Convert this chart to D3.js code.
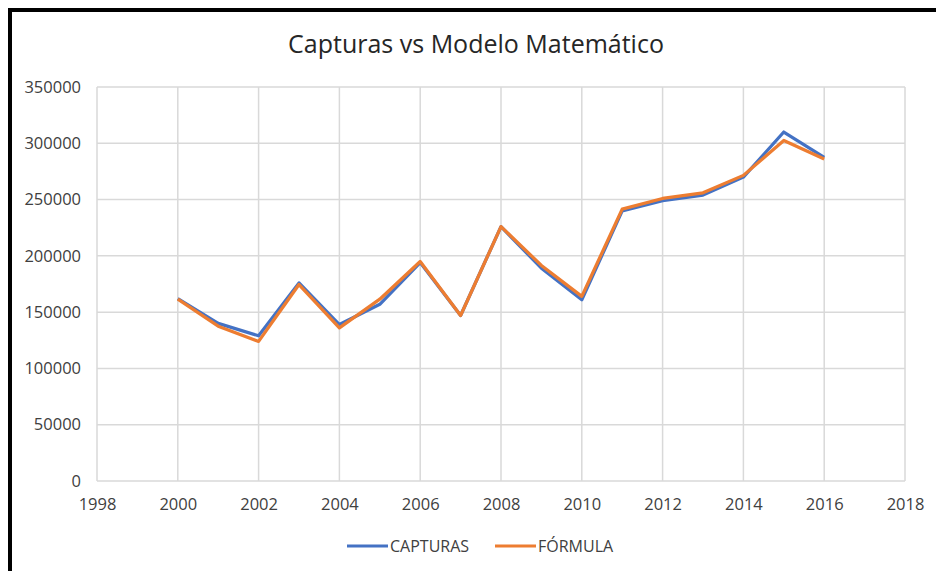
<!DOCTYPE html>
<html><head><meta charset="utf-8">
<script src="https://cdn.jsdelivr.net/npm/d3@7"></script>
<style>
html,body{margin:0;padding:0;background:#fff;}
svg{display:block;}
text{font-family:"Open Sans",sans-serif;}
</style></head>
<body><svg id="c" width="936" height="571"></svg>
<script>
const years = [2000,2001,2002,2003,2004,2005,2006,2007,2008,2009,2010,2011,2012,2013,2014,2015,2016];
const capturas = [162000,140000,129000,176000,139000,157000,194000,147000,226000,189000,161000,240000,249000,254000,270000,310000,287500];
const formula  = [161500,137500,124000,174500,136000,161500,195000,147000,226000,191500,164000,241500,251000,256000,271500,302500,286000];
const xTicks = [1998,2000,2002,2004,2006,2008,2010,2012,2014,2016,2018];
const yTicks = [0,50000,100000,150000,200000,250000,300000,350000];
const seriesNames = ["CAPTURAS","FÓRMULA"];
const colors = ["#4472C4","#ED7D31"];
const FONT = '"Open Sans",sans-serif';

const svg = d3.select("#c");
svg.append("rect").attr("x",10).attr("y",10).attr("width",960).attr("height",600)
  .attr("fill","none").attr("stroke","#000").attr("stroke-width",4);

const x = d3.scaleLinear().domain([1998,2018]).range([97,905]);
const y = d3.scaleLinear().domain([0,350000]).range([481,87]);

svg.append("text").attr("x",476).attr("y",53).attr("text-anchor","middle")
  .attr("font-size",25).attr("fill","#262626").text("Capturas vs Modelo Matemático");

const g = svg.append("g");
g.selectAll(".hg").data(yTicks).join("line")
  .attr("x1",x(1998)).attr("x2",x(2018)).attr("y1",d=>y(d)).attr("y2",d=>y(d))
  .attr("stroke","#d9d9d9").attr("stroke-width",1.5);
g.selectAll(".vg").data(xTicks).join("line")
  .attr("y1",y(0)).attr("y2",y(350000)).attr("x1",d=>x(d)).attr("x2",d=>x(d))
  .attr("stroke","#d9d9d9").attr("stroke-width",1.5);

const ya = svg.append("g").attr("transform",`translate(${x(1998)},0)`)
  .call(d3.axisLeft(y).tickValues(yTicks).tickSize(0).tickPadding(16).tickFormat(d3.format("d")));
ya.select(".domain").remove();
ya.selectAll("text").attr("font-size",16.5).attr("fill","#404040").style("font-family",FONT);
const xa = svg.append("g").attr("transform",`translate(0,${y(0)})`)
  .call(d3.axisBottom(x).tickValues(xTicks).tickSize(0).tickPadding(17).tickFormat(d3.format("d")));
xa.select(".domain").remove();
xa.selectAll("text").attr("font-size",16.5).attr("fill","#404040").style("font-family",FONT);

const line = d3.line().x((d,i)=>x(years[i])).y(d=>y(d));
[capturas,formula].forEach((s,k)=>{
  svg.append("path").datum(s).attr("d",line).attr("fill","none")
    .attr("stroke",colors[k]).attr("stroke-width",3.25).attr("stroke-linejoin","round");
});

const legX = [347,495];
seriesNames.forEach((n,k)=>{
  svg.append("line").attr("x1",legX[k]).attr("x2",legX[k]+41).attr("y1",546).attr("y2",546)
    .attr("stroke",colors[k]).attr("stroke-width",3);
  svg.append("text").attr("x",legX[k]+43).attr("y",552).attr("font-size",16)
    .attr("fill","#404040").text(n);
});
</script></body></html>
